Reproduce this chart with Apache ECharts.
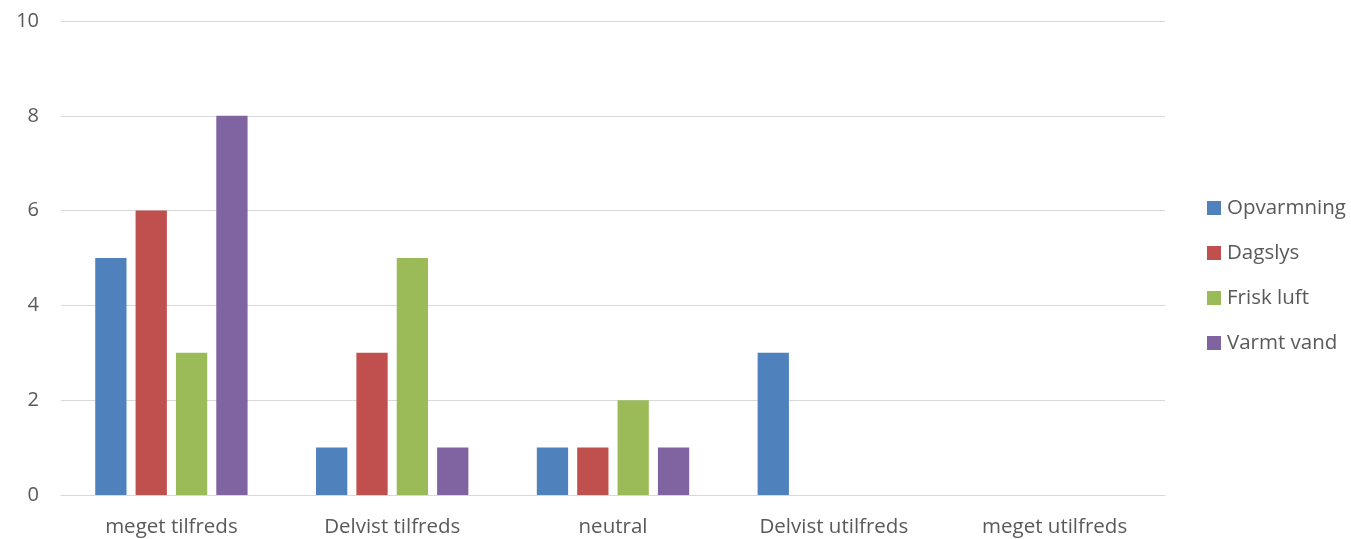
<!DOCTYPE html>
<html>
<head>
<meta charset="utf-8">
<script src="https://cdn.jsdelivr.net/npm/echarts@6/dist/echarts.min.js"></script>
<style>
  html, body { margin: 0; padding: 0; background: #fff; }
  #chart { width: 1351px; height: 539px; }
</style>
</head>
<body>
<div id="chart"></div>
<script>
// svar pr. kategori
const categories = ['meget tilfreds', 'Delvist tilfreds', 'neutral', 'Delvist utilfreds', 'meget utilfreds']
const opvarmning = [5, 1, 1, 3, 0]
const dagslys = [6, 3, 1, 0, 0]
const friskLuft = [3, 5, 2, 0, 0]
const varmtVand = [8, 1, 1, 0, 0]
const seriesNames = ['Opvarmning', 'Dagslys', 'Frisk luft', 'Varmt vand']
const colors = ['#4F81BD', '#C0504D', '#9BBB59', '#8064A2']

const textColor = '#595959'
const font = 'Open Sans'

const myChart = echarts.init(document.getElementById('chart'))

const bar = (name, data, i) => ({
    name: name,
    type: 'bar',
    data: data,
    barGap: '29%',
    barCategoryGap: '31%',
    itemStyle: { color: colors[i] },
    emphasis: { disabled: true }
})

const option = {
    animation: false,
    grid: {
        left: 61,
        right: 186,
        top: 21,
        bottom: 44
    },
    legend: {
        orient: 'vertical',
        left: 1207,
        top: 197.5,
        padding: 0,
        itemWidth: 14,
        itemHeight: 14,
        itemGap: 24,
        icon: 'rect',
        textStyle: {
            color: textColor,
            fontFamily: font,
            fontSize: 20.5,
            lineHeight: 21,
            padding: [0, 0, 0, 1]
        },
        data: seriesNames
    },
    xAxis: {
        type: 'category',
        data: categories,
        axisLine: { lineStyle: { color: '#D9D9D9', width: 1 } },
        axisTick: { show: false },
        axisLabel: {
            color: textColor,
            fontFamily: font,
            fontSize: 20.5,
            margin: 22
        }
    },
    yAxis: {
        type: 'value',
        min: 0,
        max: 10,
        interval: 2,
        axisLine: { show: false },
        axisTick: { show: false },
        splitLine: { lineStyle: { color: '#D9D9D9', width: 1 } },
        axisLabel: {
            color: textColor,
            fontFamily: font,
            fontSize: 20,
            margin: 22
        }
    },
    series: [
        bar(seriesNames[0], opvarmning, 0),
        bar(seriesNames[1], dagslys, 1),
        bar(seriesNames[2], friskLuft, 2),
        bar(seriesNames[3], varmtVand, 3)
    ]
}
myChart.setOption(option)
</script>
</body>
</html>
